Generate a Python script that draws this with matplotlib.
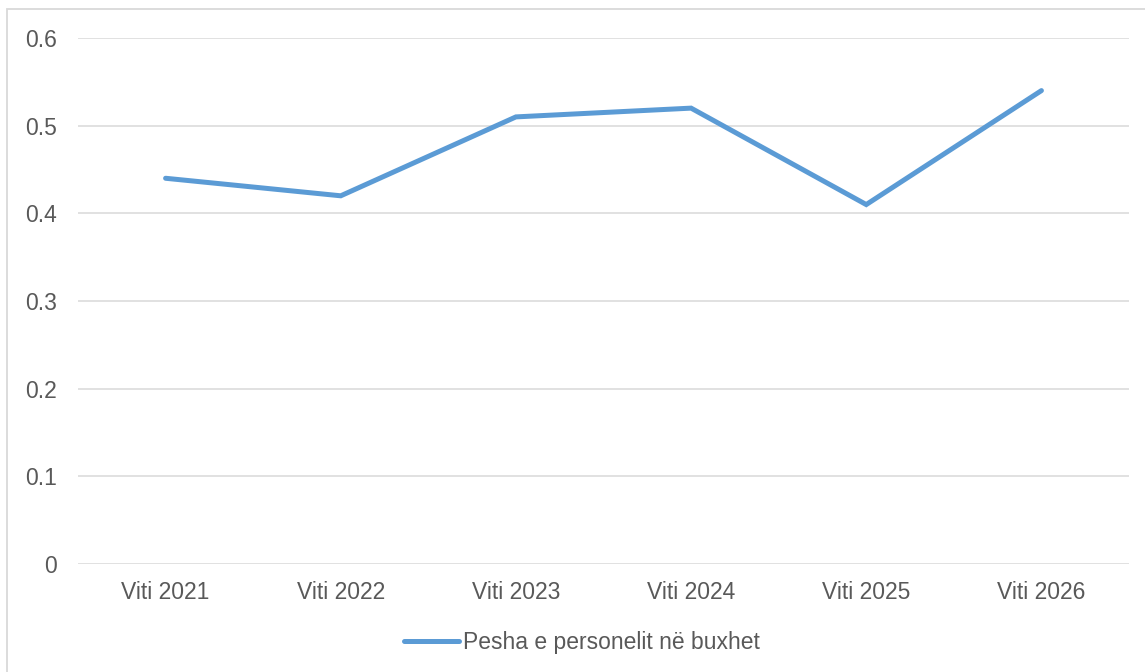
import matplotlib.pyplot as plt
from matplotlib.patches import Rectangle

years = ["Viti 2021", "Viti 2022", "Viti 2023", "Viti 2024", "Viti 2025", "Viti 2026"]
values = [0.44, 0.42, 0.51, 0.52, 0.41, 0.54]
series_name = "Pesha e personelit në buxhet"

plt.rcParams['font.family'] = ['Liberation Sans', 'DejaVu Sans']

W, H = 1145, 672
fig = plt.figure(figsize=(W / 100, H / 100), dpi=100)
ax = fig.add_axes([78 / W, 1 - 564 / H, (1129 - 78) / W, (564 - 38) / H])

line, = ax.plot(range(len(years)), values, color="#5B9BD5", lw=3.6,
                solid_capstyle="round", solid_joinstyle="miter", label=series_name)

ax.set_xlim(-0.5, len(years) - 0.5)
ax.set_ylim(0, 0.6)
ax.set_yticks([0, 0.1, 0.2, 0.3, 0.4, 0.5, 0.6])
ax.set_yticklabels(["0", "0.1", "0.2", "0.3", "0.4", "0.5", "0.6"])
ax.set_xticks(range(len(years)))
ax.set_xticklabels(years)
ax.tick_params(axis="both", length=0, labelsize=16.5, colors="#595959")
ax.tick_params(axis="y", pad=15)
ax.tick_params(axis="x", pad=12)
ax.grid(axis="y", color="#D9D9D9", lw=1.1)
ax.set_axisbelow(True)
for s in ax.spines.values():
    s.set_visible(False)

leg = fig.legend(handles=[line], loc="center", bbox_to_anchor=(582 / W, 1 - 643 / H),
                 frameon=False, fontsize=16.5, handlelength=2.4, handletextpad=0.2)
for t in leg.get_texts():
    t.set_color("#595959")

# chart border
fig.patches.append(Rectangle((7 / W, -0.1), 1.2, (H - 9) / H + 0.1, transform=fig.transFigure,
                             fill=False, edgecolor="#D9D9D9", lw=1.3))

fig.savefig("out.png", dpi=100)
